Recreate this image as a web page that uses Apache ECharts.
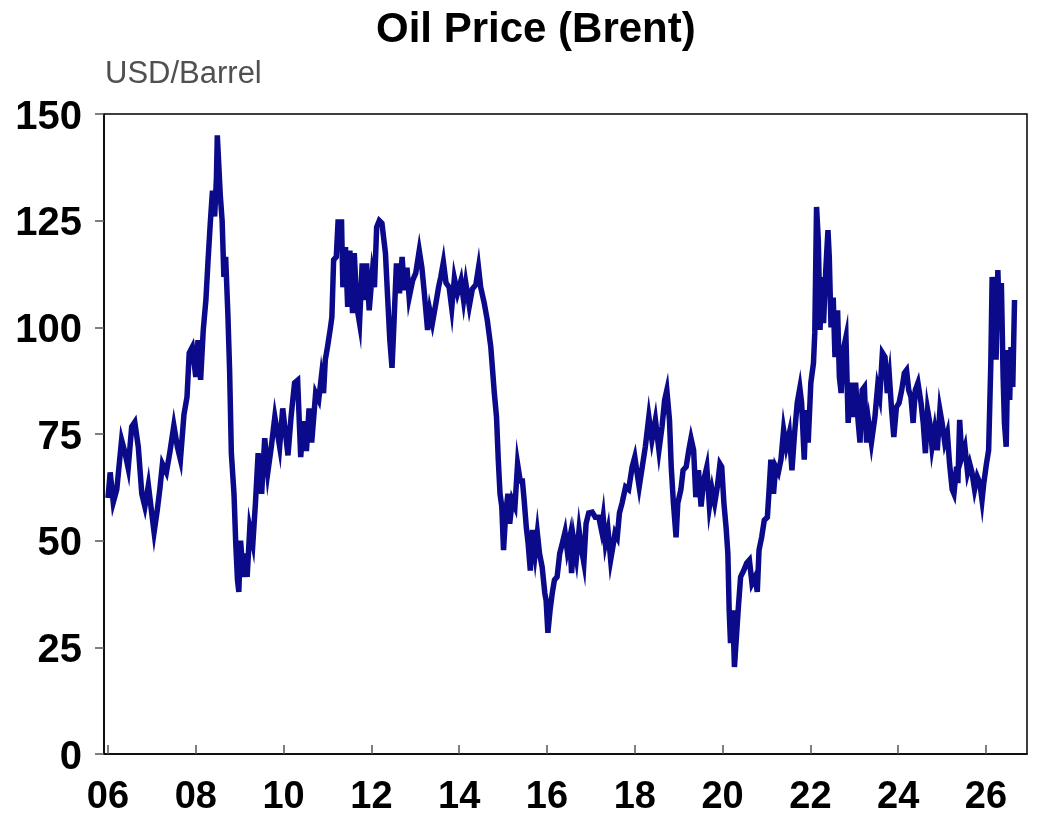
<!DOCTYPE html>
<html>
<head>
<meta charset="utf-8">
<script src="https://cdn.jsdelivr.net/npm/echarts@6/dist/echarts.min.js"></script>
<style>
html,body{margin:0;padding:0;background:#fff;}
#chart{width:1063px;height:825px;}
</style>
</head>
<body>
<div id="chart"></div>
<script>
var dates = [2006.0,2006.05,2006.12,2006.2,2006.31,2006.39,2006.46,2006.54,2006.61,2006.69,2006.77,2006.84,2006.92,2006.99,
2007.05,2007.12,2007.18,2007.24,2007.33,2007.41,2007.5,2007.58,2007.65,2007.73,2007.8,2007.85,2007.92,
2008.0,2008.05,2008.11,2008.17,2008.23,2008.28,2008.33,2008.38,2008.43,2008.47,2008.49,2008.53,2008.56,2008.6,2008.64,2008.68,2008.73,2008.77,2008.81,2008.87,2008.91,2008.95,2008.98,
2009.02,2009.08,2009.13,2009.17,2009.23,2009.3,2009.36,2009.42,2009.5,2009.57,2009.64,2009.72,2009.8,2009.91,2009.98,
2010.1,2010.17,2010.25,2010.32,2010.39,2010.45,2010.52,2010.58,2010.64,2010.73,2010.8,2010.86,2010.91,2010.95,
2011.0,2011.06,2011.1,2011.14,2011.2,2011.24,2011.32,2011.35,2011.41,2011.46,2011.51,2011.57,2011.61,2011.67,2011.73,2011.79,2011.85,2011.89,2011.95,
2012.02,2012.07,2012.12,2012.18,2012.24,2012.32,2012.37,2012.42,2012.47,2012.52,2012.57,2012.64,2012.7,2012.75,2012.81,2012.86,2012.94,
2013.01,2013.09,2013.15,2013.2,2013.28,2013.33,2013.39,2013.47,2013.53,2013.58,2013.64,2013.7,2013.77,2013.83,2013.89,2013.96,
2014.04,2014.1,2014.15,2014.23,2014.3,2014.38,2014.44,2014.49,2014.57,2014.64,2014.72,2014.76,2014.8,2014.85,2014.89,2014.93,2014.97,
2015.01,2015.06,2015.11,2015.15,2015.21,2015.27,2015.33,2015.39,2015.44,2015.48,2015.53,2015.57,2015.62,2015.67,2015.73,2015.78,2015.83,2015.89,2015.95,2015.98,
2016.02,2016.07,2016.12,2016.17,2016.23,2016.29,2016.35,2016.41,2016.46,2016.52,2016.56,2016.61,2016.67,2016.73,2016.79,2016.84,2016.89,2016.95,
2017.03,2017.1,2017.18,2017.24,2017.28,2017.33,2017.39,2017.45,2017.5,2017.55,2017.6,2017.65,2017.71,2017.79,2017.86,2017.94,
2018.0,2018.05,2018.1,2018.17,2018.24,2018.32,2018.39,2018.47,2018.55,2018.62,2018.68,2018.73,2018.79,2018.83,2018.88,2018.94,2018.98,
2019.05,2019.1,2019.17,2019.23,2019.28,2019.34,2019.39,2019.45,2019.51,2019.57,2019.64,2019.7,2019.76,2019.82,2019.88,2019.94,2019.98,
2020.03,2020.08,2020.12,2020.15,2020.18,2020.23,2020.27,2020.33,2020.36,2020.41,2020.48,2020.55,2020.61,2020.67,2020.74,2020.79,2020.83,2020.89,2020.95,
2021.02,2021.06,2021.1,2021.16,2021.21,2021.27,2021.33,2021.39,2021.45,2021.52,2021.58,2021.64,2021.7,2021.76,2021.8,2021.86,2021.9,2021.95,
2022.01,2022.07,2022.1,2022.14,2022.18,2022.22,2022.26,2022.3,2022.35,2022.4,2022.43,2022.47,2022.52,2022.56,2022.62,2022.66,2022.7,2022.75,2022.81,2022.86,2022.92,2022.98,
2023.03,2023.09,2023.13,2023.18,2023.23,2023.28,2023.33,2023.39,2023.47,2023.53,2023.58,2023.64,2023.7,2023.75,2023.8,2023.85,2023.9,2023.96,
2024.02,2024.08,2024.14,2024.19,2024.24,2024.29,2024.34,2024.39,2024.45,2024.52,2024.57,2024.62,2024.67,2024.72,2024.77,2024.83,2024.89,2024.95,
2025.0,2025.06,2025.12,2025.17,2025.23,2025.27,2025.33,2025.36,2025.4,2025.45,2025.52,2025.58,2025.63,2025.68,2025.74,2025.8,2025.86,2025.91,2025.95,
2026.01,2026.06,2026.11,2026.14,2026.2,2026.23,2026.27,2026.31,2026.35,2026.39,2026.42,2026.46,2026.5,2026.54,2026.57,2026.61,2026.65];

var prices = [60,66,59,62,73.6,70.5,67,76.7,77.8,72,61,58,63,57,
52,57,62,68,66,70.8,77,72,69,79.5,83.7,94,95.4,
88.4,97,87.7,99.4,106.4,115.8,124.4,132,126,135,145,144.7,130.6,125,111.8,116.5,103.3,90,70.5,61,49.4,40.8,38,
50,41.5,47,41.5,53,49.4,59,70.5,61,74,66,72,79,72,81,
70,79,87,87.6,69.6,78,71,81,73,84.6,83,88.4,84.6,92.4,
95.4,99.4,102.4,115.8,116.5,124.7,124.7,109.4,118.8,104.8,118,103.3,117.4,104.8,101,115,106.4,115,104,
112.7,109.4,123.5,125,124.4,117.4,107,97,90.5,102.4,115,108,116.5,108.7,114,107,111,
112.7,118,114,108.7,99.4,104,101,105.7,109.4,111.8,115.3,110.4,109.4,104.5,111.5,108,
111,106.4,110.4,105,109,110,114,109.4,105.7,101.7,95.4,90,84.6,79,69,61,58,
47.8,56.5,61,54,59.5,58,68,64,64,59.5,53,49.4,43,52.5,47,51.8,47,43.8,37.7,36,
28.4,33.7,37.7,40.8,41.5,47,49.4,52,47.8,50.8,42.4,50,46,52.5,47.8,44.8,54,56.5,
56.7,55.5,55.5,52.5,55.5,49.4,52.5,45.5,48.5,51.8,50.8,56.5,58.8,62.6,62,67.3,
69.6,66,62.6,67.3,72,79,73.6,78.3,71.2,76.7,83,85.3,78.3,67.3,58.8,50.8,58.8,
62,66.5,67.3,71.2,74,71.2,60.2,66.5,58,64.2,67.3,58,62,58.8,62.6,68,67.3,
58.8,53,47,33.7,26,33.7,20.4,29.8,34.5,41.5,43,44.8,45.5,40,41.5,38,47.8,50.8,54.8,
55.5,62,69,61,67.3,66,69,76,72,75.2,66.5,75.2,82.3,85.8,82.3,69,80.6,73,
87,91.6,98.7,128.2,120.5,99.4,111.8,101,113.4,122.8,116.5,100,107,93,104,88.4,84.6,94.7,97.7,77.6,87,79,
87,77.6,73,85.3,86,73,77.6,73,79,86,83.7,94,93,84.6,88.4,80.6,74.3,81.3,
82.3,85.3,89.3,90,85.3,83.7,77.6,85.3,87,82.3,77.6,70.5,80.6,77.6,72,76,71.2,80.6,
77.6,73,75.2,68,62,61,67.3,63.5,78.3,69.6,72,66,68,66,62,65,63.5,59.5,63.5,
68,71.2,91.6,111.8,104,92.4,113.4,99.4,110.4,88.4,77.6,72,94.7,83,95.4,86,106.4];

var xTicks = [2006,2008,2010,2012,2014,2016,2018,2020,2022,2024,2026];
var yTicks = [0,25,50,75,100,125,150];

var seriesData = dates.map(function(d,i){return [d, prices[i]];});

var chart = echarts.init(document.getElementById('chart'));
chart.setOption({
  animation:false,
  backgroundColor:'#ffffff',
  title:[
    {text:'Oil Price (Brent)', left:371, top:4,
     textStyle:{fontFamily:'Liberation Sans, Arial', fontWeight:'bold', fontSize:42, color:'#000'}},
    {text:'USD/Barrel', left:100, top:54,
     textStyle:{fontFamily:'Liberation Sans, Arial', fontWeight:'normal', fontSize:31, color:'#505050'}}
  ],
  grid:{left:104, right:36, top:114, bottom:71, show:true, borderColor:'#000', borderWidth:1.5, containLabel:false},
  xAxis:{
    type:'value', min:2005.909, max:2026.934,
    splitLine:{show:false},
    axisLine:{show:true, onZero:false, lineStyle:{color:'#000', width:1.5}},
    axisTick:{show:true, inside:true, length:9, customValues:xTicks, lineStyle:{color:'#555', width:1.5}},
    axisLabel:{customValues:xTicks, margin:25, fontFamily:'Liberation Sans, Arial', fontWeight:'bold', fontSize:38, color:'#000',
      formatter:function(v){var s=String(Math.round(v)%100);return s.length<2?'0'+s:s;}}
  },
  yAxis:{
    type:'value', min:0, max:150,
    splitLine:{show:false},
    axisLine:{show:true, lineStyle:{color:'#000', width:1.5}},
    axisTick:{show:true, inside:false, length:9, customValues:yTicks, lineStyle:{color:'#555', width:1.5}},
    axisLabel:{customValues:yTicks, margin:22, fontFamily:'Liberation Sans, Arial', fontWeight:'bold', fontSize:40, color:'#000',
      formatter:function(v){return '{a|'+v+'}';},
      rich:{a:{fontFamily:'Liberation Sans, Arial', fontWeight:'bold', fontSize:40, color:'#000', padding:[7,0,0,0]}}}
  },
  series:[{
    type:'line', data:seriesData, showSymbol:false, symbol:'none',
    lineStyle:{color:'#0a0a8a', width:5.5, join:'miter'},
    clip:true
  }]
});
</script>
</body>
</html>
